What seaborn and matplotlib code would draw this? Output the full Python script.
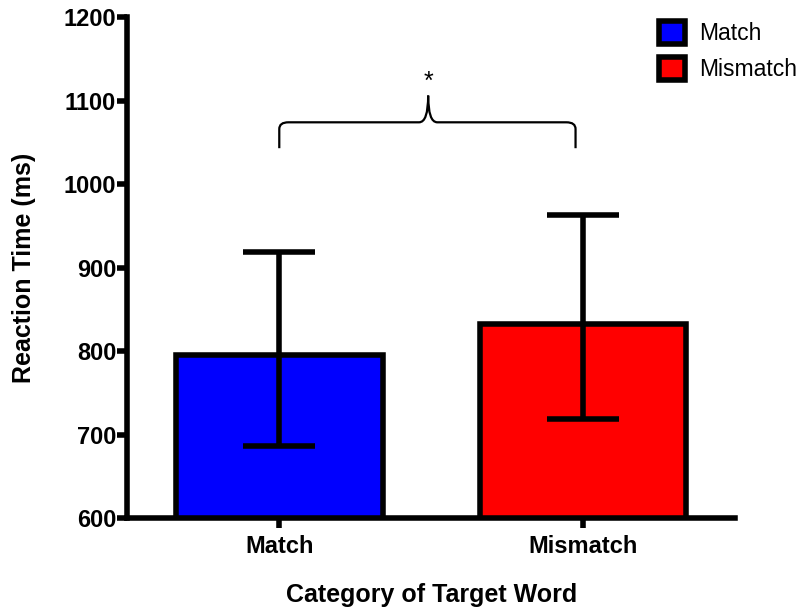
import matplotlib
matplotlib.use("Agg")
import matplotlib.pyplot as plt
import seaborn as sns
import numpy as np
import pandas as pd
from matplotlib.patches import Patch
from matplotlib.path import Path
from matplotlib.patches import PathPatch

categories = ["Match", "Mismatch"]
means = [795, 832]
upper = [919, 963]
lower = [686, 719]
colors = ["#0000ff", "#ff0000"]
yticks = [600, 700, 800, 900, 1000, 1100, 1200]

sns.set_style("white")
plt.rcParams['font.family'] = ['Liberation Sans', 'DejaVu Sans']
plt.rcParams['text.color'] = 'black'
plt.rcParams['axes.labelcolor'] = 'black'
plt.rcParams['xtick.color'] = 'black'
plt.rcParams['ytick.color'] = 'black'

fig = plt.figure(figsize=(8.06, 6.09), dpi=100)
ax = fig.add_axes([0.158, 0.149, 0.754, 0.823])

df = pd.DataFrame({"cat": categories, "rt": means})
sns.barplot(data=df, x="cat", y="rt", hue="cat", palette=colors, width=0.68,
            saturation=1, edgecolor="black", linewidth=4, legend=False, ax=ax, zorder=2)

xpos = np.arange(len(categories))
m = np.array(means)
yerr = np.vstack([m - np.array(lower), np.array(upper) - m])
ax.errorbar(xpos, m, yerr=yerr, fmt="none", ecolor="black", elinewidth=4,
            capsize=26, capthick=4, zorder=3)

ax.set_xlim(-0.5, 1.5)
ax.set_ylim(600, 1200)
ax.set_yticks(yticks)
ax.set_yticklabels([str(v) for v in yticks], fontsize=17, fontweight="bold")
ax.set_xticks(xpos)
ax.set_xticklabels(categories, fontsize=17, fontweight="bold")
for s in ["top", "right"]:
    ax.spines[s].set_visible(False)
for s in ["left", "bottom"]:
    ax.spines[s].set_linewidth(4)
    ax.spines[s].set_color("black")
ax.tick_params(axis="both", direction="out", length=7, width=4, color="black", pad=1,
               left=True, bottom=True)
ax.tick_params(axis="x", pad=5)
ax.set_ylabel("Reaction Time (ms)", fontsize=18, fontweight="bold", labelpad=20)
ax.set_xlabel("Category of Target Word", fontsize=18, fontweight="bold", labelpad=18)
ax.grid(False)

# brace
xl, xr, xm = 0.0, 0.975, 0.49
yb, yh, yt = 1043, 1074, 1106
r = 0.03
verts = [(xl, yb), (xl, yh - 8), (xl, yh), (xl + r, yh),
         (xm - r, yh), (xm, yh), (xm, yt),
         (xm, yt), (xm, yh), (xm + r, yh),
         (xr - r, yh), (xr, yh), (xr, yh - 8), (xr, yb)]
codes = [Path.MOVETO, Path.LINETO, Path.CURVE3, Path.CURVE3,
         Path.LINETO, Path.CURVE3, Path.CURVE3,
         Path.MOVETO, Path.CURVE3, Path.CURVE3,
         Path.LINETO, Path.CURVE3, Path.CURVE3, Path.LINETO]
ax.add_patch(PathPatch(Path(verts, codes), fill=False, lw=1.6, ec="black", clip_on=False))
ax.text(xm, 1108, "*", ha="center", va="bottom", fontsize=18)

handles = [Patch(facecolor=c, edgecolor="black", linewidth=4, label=l)
           for c, l in zip(colors, categories)]
leg = fig.legend(handles=handles, loc="upper right", bbox_to_anchor=(1.014, 1.0),
                 frameon=False, fontsize=16.5, handlelength=1.15, handleheight=1.2,
                 handletextpad=0.6, labelspacing=0.5)

fig.savefig("out.png", dpi=100)
